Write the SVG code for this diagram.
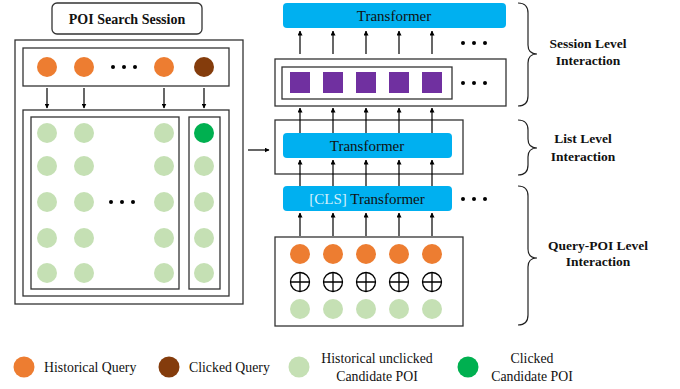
<svg xmlns="http://www.w3.org/2000/svg" width="680" height="389" viewBox="0 0 680 389">
  <defs>
    <marker id="arrow" viewBox="0 0 10 10" refX="9" refY="5" markerWidth="5" markerHeight="5" orient="auto" markerUnits="userSpaceOnUse">
      <path d="M0,0 L10,5 L0,10 z" fill="#000"/>
    </marker>
    <style>
      .box { fill: #fff; stroke: #333; stroke-width: 1.3; }
      .blue { fill: #00B0F0; }
      .hq { fill: #ED7D31; }
      .cq { fill: #843C0C; }
      .uc { fill: #C5E0B4; }
      .cc { fill: #00B050; }
      .sq { fill: #7030A0; }
      .arr { stroke: #000; stroke-width: 1.2; fill: none; marker-end: url(#arrow); }
      .dot { fill: #000; }
      .brace { fill: none; stroke: #222; stroke-width: 1.2; }
      .serif { font-family: "Liberation Serif", "Times New Roman", serif; fill: #111; }
      .bold { font-weight: bold; font-size: 13.5px; }
      .title { font-weight: bold; font-size: 14px; }
      .tf { font-size: 15px; }
      .leg { font-size: 13.8px; }
      .plus { fill: none; stroke: #000; stroke-width: 1.3; }
    </style>
  </defs>

  <!-- session panel on the left -->
  <g id="session-title">
    <rect x="52" y="3" width="150" height="31" rx="5" class="box"/>
    <text x="127" y="24" text-anchor="middle" class="serif title">POI Search Session</text>
  </g>

  <g id="session-panel">
    <rect x="15" y="40" width="228" height="264" class="box"/>
  </g>

  <g id="query-row">
    <rect x="23" y="48" width="206" height="38" class="box"/>
    <circle cx="47" cy="67" r="10" class="hq"/>
    <circle cx="84" cy="67" r="10" class="hq"/>
    <circle cx="164" cy="67" r="10" class="hq"/>
    <circle cx="204" cy="67" r="10" class="cq"/>
    <circle cx="113" cy="67" r="2" class="dot"/>
    <circle cx="124" cy="67" r="2" class="dot"/>
    <circle cx="135" cy="67" r="2" class="dot"/>
  </g>

  <g id="candidate-lists">
    <rect x="23" y="110" width="206" height="186" class="box"/>
    <rect x="31" y="117" width="148" height="172" class="box"/>
    <rect x="189" y="117" width="31" height="172" class="box"/>
    <g class="uc">
      <circle cx="47" cy="133" r="10"/><circle cx="84" cy="133" r="10"/><circle cx="164" cy="133" r="10"/>
      <circle cx="47" cy="166" r="10"/><circle cx="84" cy="166" r="10"/><circle cx="164" cy="166" r="10"/><circle cx="204" cy="166" r="10"/>
      <circle cx="47" cy="202" r="10"/><circle cx="84" cy="202" r="10"/><circle cx="164" cy="202" r="10"/><circle cx="204" cy="202" r="10"/>
      <circle cx="47" cy="238" r="10"/><circle cx="84" cy="238" r="10"/><circle cx="164" cy="238" r="10"/><circle cx="204" cy="238" r="10"/>
      <circle cx="47" cy="273" r="10"/><circle cx="84" cy="273" r="10"/><circle cx="164" cy="273" r="10"/><circle cx="204" cy="273" r="10"/>
    </g>
    <circle cx="204" cy="133" r="10" class="cc"/>
    <circle cx="111" cy="202" r="2" class="dot"/>
    <circle cx="122" cy="202" r="2" class="dot"/>
    <circle cx="133" cy="202" r="2" class="dot"/>
  </g>

  <!-- hierarchical model on the right -->
  <g id="session-transformer">
    <rect x="283" y="3" width="223" height="25" rx="4" class="blue"/>
    <text x="394" y="21" text-anchor="middle" class="serif tf">Transformer</text>
  </g>

  <g id="session-embeddings">
    <rect x="275" y="59" width="231" height="47" class="box"/>
    <rect x="282" y="67" width="170" height="32" class="box"/>
    <rect x="290" y="72" width="20" height="21" class="sq"/>
    <rect x="323" y="72" width="20" height="21" class="sq"/>
    <rect x="356" y="72" width="20" height="21" class="sq"/>
    <rect x="389" y="72" width="20" height="21" class="sq"/>
    <rect x="422" y="72" width="20" height="21" class="sq"/>
    <circle cx="463" cy="83" r="2" class="dot"/>
    <circle cx="474" cy="83" r="2" class="dot"/>
    <circle cx="485" cy="83" r="2" class="dot"/>
  </g>

  <g id="list-block">
    <rect x="275" y="120" width="188" height="54" class="box"/>
    <rect x="283" y="133" width="169" height="25" rx="4" class="blue"/>
    <text x="367" y="151" text-anchor="middle" class="serif tf">Transformer</text>
  </g>

  <g id="cls-transformer">
    <rect x="283" y="186" width="169" height="25" rx="4" class="blue"/>
    <text x="367" y="204" text-anchor="middle" class="serif tf"><tspan fill="#D6F0FC">[CLS]</tspan> Transformer</text>
    <circle cx="463" cy="199" r="2" class="dot"/>
    <circle cx="474" cy="199" r="2" class="dot"/>
    <circle cx="485" cy="199" r="2" class="dot"/>
  </g>

  <g id="query-poi-pairs">
    <rect x="275" y="237" width="188" height="89" class="box"/>
    <g class="hq">
      <circle cx="300" cy="254" r="10"/><circle cx="333" cy="254" r="10"/><circle cx="366" cy="254" r="10"/><circle cx="399" cy="254" r="10"/><circle cx="432" cy="254" r="10"/>
    </g>
    <g class="plus">
      <circle cx="300" cy="282" r="9.5"/><path d="M290.5,282 H309.5 M300,272.5 V291.5"/>
      <circle cx="333" cy="282" r="9.5"/><path d="M323.5,282 H342.5 M333,272.5 V291.5"/>
      <circle cx="366" cy="282" r="9.5"/><path d="M356.5,282 H375.5 M366,272.5 V291.5"/>
      <circle cx="399" cy="282" r="9.5"/><path d="M389.5,282 H408.5 M399,272.5 V291.5"/>
      <circle cx="432" cy="282" r="9.5"/><path d="M422.5,282 H441.5 M432,272.5 V291.5"/>
    </g>
    <g class="uc">
      <circle cx="300" cy="309" r="10"/><circle cx="333" cy="309" r="10"/><circle cx="366" cy="309" r="10"/><circle cx="399" cy="309" r="10"/><circle cx="432" cy="309" r="10"/>
    </g>
  </g>

  <g id="top-dots">
    <circle cx="463" cy="43" r="2" class="dot"/>
    <circle cx="474" cy="43" r="2" class="dot"/>
    <circle cx="485" cy="43" r="2" class="dot"/>
  </g>

  <!-- connectors -->
  <g id="connectors">
    <line x1="47" y1="88" x2="47" y2="108" class="arr"/>
    <line x1="84" y1="88" x2="84" y2="108" class="arr"/>
    <line x1="164" y1="88" x2="164" y2="108" class="arr"/>
    <line x1="204" y1="88" x2="204" y2="108" class="arr"/>
    <line x1="248" y1="150" x2="269" y2="150" class="arr"/>

    <line x1="300" y1="54" x2="300" y2="31" class="arr"/>
    <line x1="333" y1="54" x2="333" y2="31" class="arr"/>
    <line x1="366" y1="54" x2="366" y2="31" class="arr"/>
    <line x1="399" y1="54" x2="399" y2="31" class="arr"/>
    <line x1="432" y1="54" x2="432" y2="31" class="arr"/>

    <line x1="300" y1="133" x2="300" y2="108" class="arr"/>
    <line x1="333" y1="133" x2="333" y2="108" class="arr"/>
    <line x1="366" y1="133" x2="366" y2="108" class="arr"/>
    <line x1="399" y1="133" x2="399" y2="108" class="arr"/>
    <line x1="432" y1="133" x2="432" y2="108" class="arr"/>

    <line x1="300" y1="186" x2="300" y2="160" class="arr"/>
    <line x1="333" y1="186" x2="333" y2="160" class="arr"/>
    <line x1="366" y1="186" x2="366" y2="160" class="arr"/>
    <line x1="399" y1="186" x2="399" y2="160" class="arr"/>
    <line x1="432" y1="186" x2="432" y2="160" class="arr"/>

    <line x1="300" y1="236" x2="300" y2="213" class="arr"/>
    <line x1="333" y1="236" x2="333" y2="213" class="arr"/>
    <line x1="366" y1="236" x2="366" y2="213" class="arr"/>
    <line x1="399" y1="236" x2="399" y2="213" class="arr"/>
    <line x1="432" y1="236" x2="432" y2="213" class="arr"/>
  </g>

  <!-- level braces and labels -->
  <g id="session-level">
    <path class="brace" d="M518,3 Q528,3 528,13 L528,45 Q528,54 537,54 Q528,54 528,63 L528,96 Q528,106 518,106"/>
    <text x="588" y="48" text-anchor="middle" class="serif bold">Session Level</text>
    <text x="588" y="65" text-anchor="middle" class="serif bold">Interaction</text>
  </g>
  <g id="list-level">
    <path class="brace" d="M518,120 Q528,120 528,130 L528,139 Q528,148 537,148 Q528,148 528,157 L528,165 Q528,175 518,175"/>
    <text x="583" y="143" text-anchor="middle" class="serif bold">List Level</text>
    <text x="583" y="161" text-anchor="middle" class="serif bold">Interaction</text>
  </g>
  <g id="query-poi-level">
    <path class="brace" d="M518,186 Q528,186 528,196 L528,249 Q528,258 537,258 Q528,258 528,267 L528,315 Q528,325 518,325"/>
    <text x="598" y="250" text-anchor="middle" class="serif bold">Query-POI Level</text>
    <text x="598" y="266" text-anchor="middle" class="serif bold">Interaction</text>
  </g>

  <!-- legend -->
  <g id="legend">
    <circle cx="24" cy="367" r="10.5" class="hq"/>
    <text x="44" y="372" class="serif leg">Historical Query</text>
    <circle cx="169" cy="367" r="10.5" class="cq"/>
    <text x="189" y="372" class="serif leg">Clicked Query</text>
    <circle cx="299" cy="367" r="10.5" class="uc"/>
    <text x="377" y="363" text-anchor="middle" class="serif leg">Historical unclicked</text>
    <text x="377" y="381" text-anchor="middle" class="serif leg">Candidate POI</text>
    <circle cx="468" cy="367" r="10.5" class="cc"/>
    <text x="532" y="363" text-anchor="middle" class="serif leg">Clicked</text>
    <text x="532" y="381" text-anchor="middle" class="serif leg">Candidate POI</text>
  </g>
</svg>
